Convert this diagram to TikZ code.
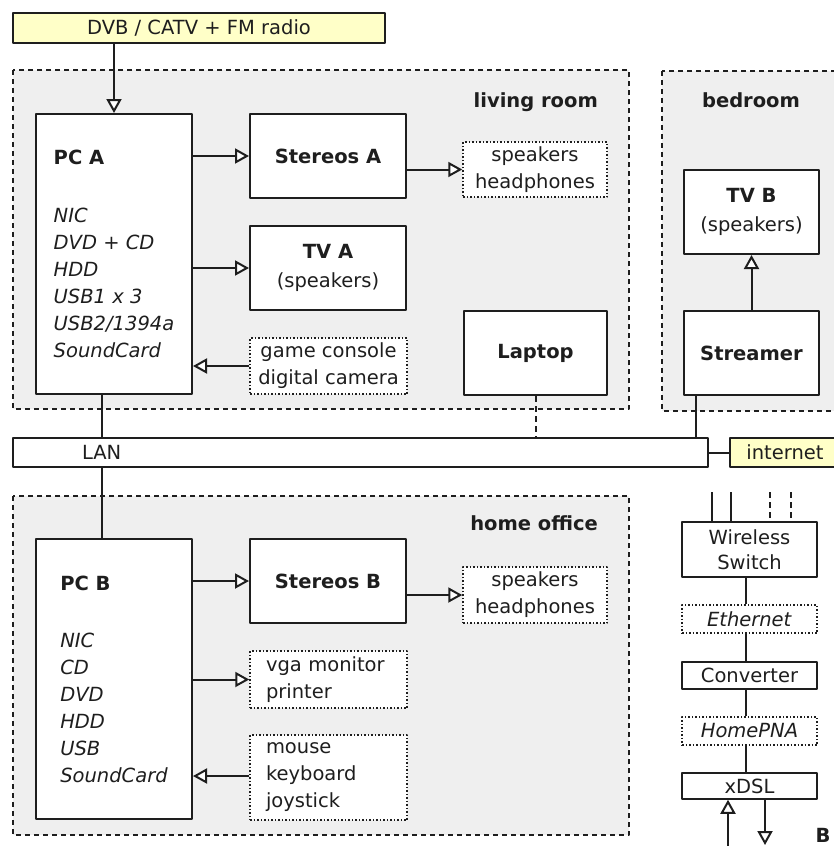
\documentclass[tikz,border=0pt]{standalone}
\usepackage{fontspec}
\setmainfont{DejaVu Sans}
\usetikzlibrary{arrows.meta}
\definecolor{roomgray}{RGB}{239,239,239}
\definecolor{feedyellow}{RGB}{255,255,200}
\definecolor{inkgray}{RGB}{30,30,30}

\begin{document}
\begin{tikzpicture}[x=1pt,y=-1pt,line join=bevel,
  >={Triangle[fill=white,length=14pt,width=15pt]},
  every node/.style={font=\fontsize{19.5}{27}\selectfont,inner sep=0pt,text=inkgray},
  device/.style={draw=inkgray,fill=white,line width=2pt,rectangle,align=center},
  extra/.style={draw=inkgray,fill=white,line width=1.5pt,dotted,rectangle,align=center},
  room/.style={draw=inkgray,fill=roomgray,line width=2pt,dash pattern=on 5pt off 4pt},
  feed/.style={draw=inkgray,fill=feedyellow,line width=2pt,rectangle},
  wire/.style={draw=inkgray,line width=2pt},
  roomlabel/.style={font=\fontsize{19.5}{27}\selectfont\bfseries},
  ]
\useasboundingbox (0,0) rectangle (834,846);
\clip (0,0) rectangle (834,846);
%% rooms
\draw [room] (13,70) rectangle (629,409);
\draw [room] (662,71) rectangle (850,411);
\draw [room] (13,496) rectangle (629,835);
\node (living) at (598,102) [roomlabel,anchor=east] {living room};
\node (bedroom) at (751,100) [roomlabel] {bedroom};
\node (office) at (598,523) [roomlabel,anchor=east] {home office};
%%
\begin{scope}
  \node (feedtv) at (199,28) [feed,minimum width=372,minimum height=30] {DVB / CATV + FM radio};
  \node (pcA) at (114,254) [device,align=left,minimum width=156,minimum height=280]
    {\textbf{PC A}\\[31pt]\textit{NIC}\\\textit{DVD + CD}\\\textit{HDD}\\\textit{USB1 x 3}\\\textit{USB2/1394a}\\\textit{SoundCard}};
  \node (stereosA) at (328,156) [device,minimum width=156,minimum height=84] {\textbf{Stereos A}};
  \node (tvA) at (328,268) [device,minimum width=156,minimum height=84] {\textbf{TV A}\\[2pt](speakers)};
  \node (gameA) at (328.5,366) [extra,minimum width=157,minimum height=56] {game console\\digital camera};
  \node (spkA) at (535,169.5) [extra,minimum width=144,minimum height=55] {speakers\\headphones};
  \node (laptop) at (535.5,353) [device,minimum width=143,minimum height=84] {\textbf{Laptop}};
  \node (tvB) at (751.5,212) [device,minimum width=135,minimum height=84] {\textbf{TV B}\\[2pt](speakers)};
  \node (streamer) at (751.5,353) [device,minimum width=135,minimum height=84] {\textbf{Streamer}};
  \node (lan) at (360.5,452.5) [device,line width=1.5pt,align=left,text width=557,inner xsep=69,minimum height=29] {LAN};
  \node (internet) at (785,452.5) [feed,line width=1.5pt,minimum width=110,minimum height=29] {internet};
  \node (pcB) at (114,679) [device,align=left,minimum width=156,minimum height=280]
    {\textbf{PC B}\\[30pt]\textit{NIC}\\\textit{CD}\\\textit{DVD}\\\textit{HDD}\\\textit{USB}\\\textit{SoundCard}};
  \node (stereosB) at (328,581) [device,minimum width=156,minimum height=84] {\textbf{Stereos B}};
  \node (vgaB) at (328.5,679.5) [extra,align=left,text width=125,inner xsep=16,minimum height=57] {vga monitor\\printer};
  \node (inputB) at (328.5,777.5) [extra,align=left,text width=125,inner xsep=16,minimum height=85] {mouse\\keyboard\\joystick};
  \node (spkB) at (535,595) [extra,minimum width=144,minimum height=56] {speakers\\headphones};
  \node (wswitch) at (749.5,549.5) [device,line width=1.5pt,minimum width=135,minimum height=55] {Wireless\\[-2pt]Switch};
  \node (ethernet) at (749.5,619) [extra,minimum width=135,minimum height=28] {\textit{Ethernet}};
  \node (converter) at (749.5,675.5) [device,line width=1.5pt,minimum width=135,minimum height=27] {Converter};
  \node (homepna) at (749.5,731) [extra,minimum width=135,minimum height=28] {\textit{HomePNA}};
  \node (xdsl) at (749.5,786) [device,line width=1.5pt,minimum width=135,minimum height=26] {xDSL};
  \node (bmark) at (823,842) [anchor=base,font=\fontsize{19.5}{27}\selectfont\bfseries] {B};
  \coordinate (ant1) at (712,492);
  \coordinate (ant2) at (731,492);
  \coordinate (ant3) at (770,492);
  \coordinate (ant4) at (791,492);
  \coordinate (dslin) at (728,850);
  \coordinate (dslout) at (765,845);
\end{scope}
%% connectors
\begin{scope}
  \draw [wire,->] (pcA.north |- feedtv.south) -- (pcA.north);
  \draw [wire,->] (pcA.east |- stereosA.west) -- (stereosA.west);
  \draw [wire,->] (pcA.east |- tvA.west) -- (tvA.west);
  \draw [wire,->] (gameA.west) -- (gameA.west -| pcA.east);
  \draw [wire,->] (stereosA.east |- spkA.west) -- (spkA.west);
  \draw [wire,->] (streamer.north) -- (tvB.south);
  \draw [wire] ([xshift=-12pt]pcA.south) coordinate (tapA) -- (tapA |- lan.north);
  \draw [wire] (tapA |- lan.south) -- (tapA |- pcB.north);
  \draw [wire,dash pattern=on 6pt off 4pt] (laptop.south) -- (laptop.south |- lan.north);
  \draw [wire] ([xshift=13pt]streamer.south west) coordinate (tapS) -- (tapS |- lan.north);
  \draw [wire] (lan.east) -- (internet.west);
  \draw [wire,->] (pcB.east |- stereosB.west) -- (stereosB.west);
  \draw [wire,->] (pcB.east |- vgaB.west) -- (vgaB.west);
  \draw [wire,->] ([yshift=1.5pt]inputB.west) -- ([yshift=1.5pt]inputB.west -| pcB.east);
  \draw [wire,->] (stereosB.east |- spkB.west) -- (spkB.west);
  \foreach \a/\b in {wswitch/ethernet,ethernet/converter,converter/homepna,homepna/xdsl}
    \draw [wire] ([xshift=-4pt]\a.south) -- ([xshift=-4pt]\b.north);
  \draw [wire] (ant1) -- (ant1 |- wswitch.north);
  \draw [wire] (ant2) -- (ant2 |- wswitch.north);
  \draw [wire,dash pattern=on 6pt off 4pt] (ant3) -- (ant3 |- wswitch.north);
  \draw [wire,dash pattern=on 6pt off 4pt] (ant4) -- (ant4 |- wswitch.north);
  \draw [wire,->] (dslin) -- (dslin |- xdsl.south);
  \draw [wire,->] (dslout |- xdsl.south) -- (dslout);
\end{scope}
%
\end{tikzpicture}
\end{document}
